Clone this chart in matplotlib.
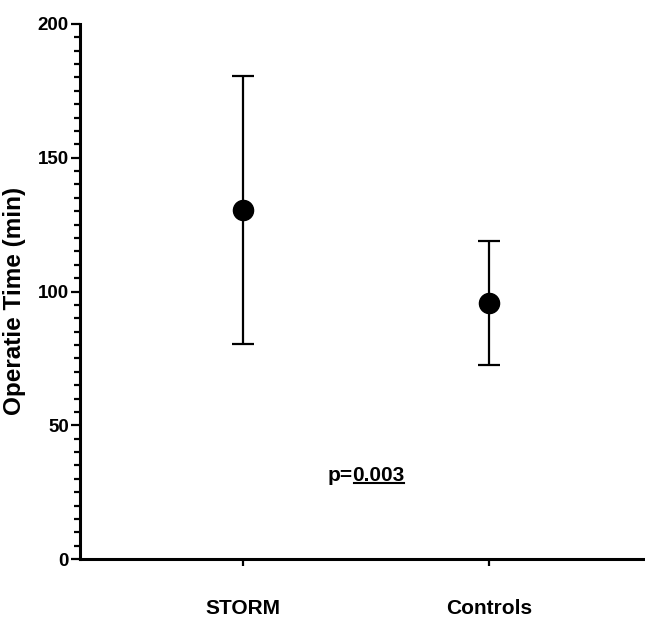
import matplotlib

matplotlib.use("Agg")
import matplotlib.pyplot as plt
from matplotlib.ticker import MultipleLocator

groups = ["STORM", "Controls"]
means = [130.5, 95.7]
errors = [50.0, 23.0]
p_label = "p="
p_value = "0.003"

plt.rcParams["font.family"] = ["Liberation Sans", "DejaVu Sans"]
plt.rcParams["font.weight"] = "bold"

fig = plt.figure(figsize=(6.45, 6.17), dpi=100)
ax = fig.add_axes([80 / 645, 1 - 559 / 617, 1 - 80 / 645, (559 - 24) / 617])

xpos = list(range(len(groups)))
ax.errorbar(
    xpos,
    means,
    yerr=errors,
    fmt="o",
    color="black",
    ms=14.5,
    elinewidth=1.6,
    capsize=8,
    capthick=1.6,
)

ax.set_xlim(-0.663, 1.634)
ax.set_ylim(0, 200)
ax.set_xticks(xpos)
ax.set_xticklabels(groups, fontsize=15, fontweight="bold")
ax.set_yticks([0, 50, 100, 150, 200])
ax.yaxis.set_minor_locator(MultipleLocator(5))
ax.tick_params(axis="y", which="major", length=6.5, width=1.6, labelsize=13.5, pad=1.5)
ax.tick_params(axis="y", which="minor", length=4, width=1.6)
ax.tick_params(axis="x", which="major", length=5, width=1.6, pad=23.5)
for lbl in ax.get_yticklabels():
    lbl.set_fontweight("bold")

for s in ["top", "right"]:
    ax.spines[s].set_visible(False)
for s in ["left", "bottom"]:
    ax.spines[s].set_linewidth(2.2)
ax.spines["left"].set_bounds(0, 200)

ax.set_ylabel("Operatie Time (min)", fontsize=17.5, fontweight="bold")
ax.yaxis.set_label_coords(-0.096, 0.482)

# p-value annotation, value underlined
y_p = 31.4
t1 = ax.text(0.5, y_p, p_label, ha="right", va="center", fontsize=15, fontweight="bold")
t2 = ax.text(0.5, y_p, p_value, ha="left", va="center", fontsize=15, fontweight="bold")
fig.canvas.draw()
w1 = t1.get_window_extent()
w2 = t2.get_window_extent()
shift = (w1.width + w2.width) / 2 - w1.width
inv = ax.transData.inverted()
dx = inv.transform((shift, 0))[0] - inv.transform((0, 0))[0]
t1.set_x(0.5 - dx)
t2.set_x(0.5 - dx)
fig.canvas.draw()
bb = t2.get_window_extent()
finv = fig.transFigure.inverted()
(x0, y0) = finv.transform((bb.x0 + 1, bb.y0 + 2))
(x1, _) = finv.transform((bb.x1 - 1, bb.y0 + 2))
fig.add_artist(plt.Line2D([x0, x1], [y0, y0], color="black", lw=1.5, transform=fig.transFigure))

fig.savefig("out.png", dpi=100)
